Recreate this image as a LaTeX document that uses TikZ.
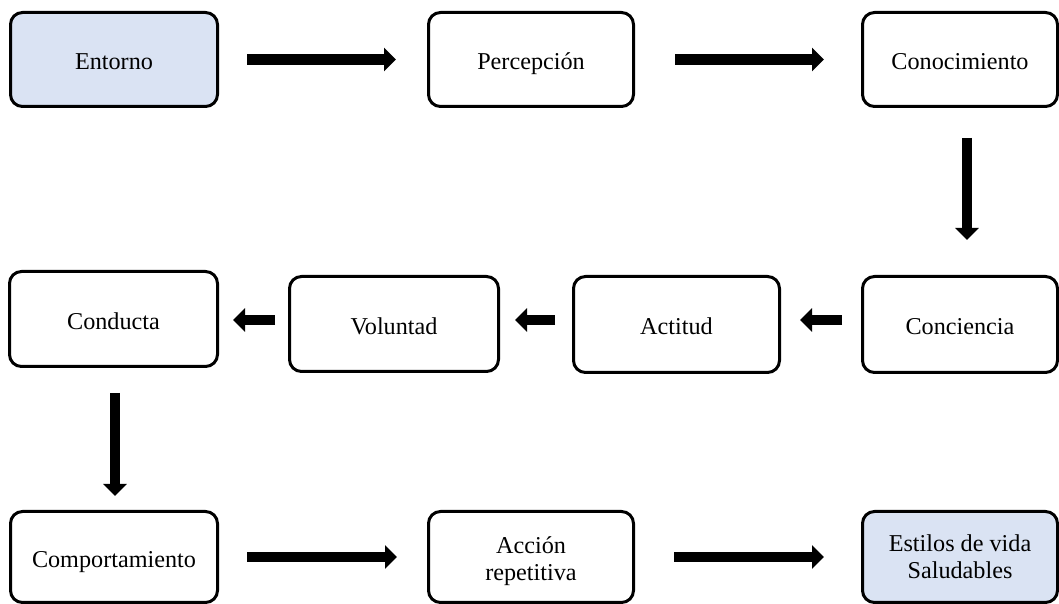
\documentclass[tikz,border=0pt]{standalone}
\usepackage{fontspec}
\setmainfont{Liberation Serif}
\usetikzlibrary{arrows.meta}
\definecolor{azulclaro}{HTML}{DAE3F3}

\begin{document}
\begin{tikzpicture}[x=1pt,y=1pt,
  caja/.style={draw,line width=3pt,rounded corners=12pt,align=center,
    font=\fontsize{24.2}{27}\selectfont,inner sep=0pt,text height=22pt,text depth=1pt},
  cajaazul/.style={caja,fill=azulclaro},
  dos/.style={text height={},text depth={}},
  flecha/.style={line width=10.5pt,-{Triangle[length=12pt,width=23pt]}}]
\useasboundingbox (0,0) rectangle (1059,604);
% fila 1
\node[cajaazul,minimum width=207,minimum height=94] (ent) at (114,544.5) {Entorno};
\node[caja,minimum width=205,minimum height=94] (per) at (531,544.5) {Percepción};
\node[caja,minimum width=195,minimum height=94] (con) at (960,544.5) {Conocimiento};
% fila 2
\node[caja,minimum width=208,minimum height=95] (cdu) at (113.5,285) {Conducta};
\node[caja,minimum width=209,minimum height=95] (vol) at (394,280) {Voluntad};
\node[caja,minimum width=206,minimum height=96] (act) at (676.5,279.5) {Actitud};
\node[caja,minimum width=195,minimum height=96] (cie) at (960,279.5) {Conciencia};
% fila 3
\node[caja,minimum width=207,minimum height=91] (com) at (114,47) {Comportamiento};
\node[caja,dos,minimum width=205,minimum height=91] (acc) at (531,47) {};
\node[cajaazul,dos,minimum width=195,minimum height=91] (est) at (960,47) {Estilos de vida\\Saludables};
\node[font=\fontsize{24.2}{27}\selectfont,align=center,inner sep=0pt] (acct) at (531,43) {Acción\\repetitiva};
% flechas
\draw[flecha,shorten <=28pt,shorten >=31pt] (ent) -- (per);
\draw[flecha,shorten <=40pt,shorten >=37pt] (per) -- (con);
\draw[flecha,shorten <=30pt,shorten >=35pt] ([xshift=7]con.south) -- ([xshift=7]cie.north);
\draw[flecha,shorten <=19pt,shorten >=19pt] ([yshift=4.5]cie.west) -- ([yshift=4.5]act.east);
\draw[flecha,shorten <=17pt,shorten >=15pt] ([yshift=4.5]act.west) -- ([yshift=4]vol.east);
\draw[flecha,shorten <=13pt,shorten >=14pt] ([yshift=4]vol.west) -- ([yshift=-1]cdu.east);
\draw[flecha,shorten <=25pt,shorten >=14pt] ([xshift=1.5]cdu.south) -- ([xshift=1]com.north);
\draw[flecha,shorten <=28pt,shorten >=30pt] (com) -- (acc);
\draw[flecha,shorten <=39pt,shorten >=37pt] (acc) -- (est);
\end{tikzpicture}
\end{document}
